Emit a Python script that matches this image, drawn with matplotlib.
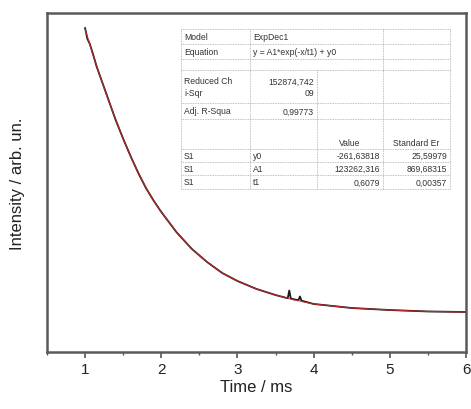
import matplotlib
matplotlib.use('Agg')
import matplotlib.pyplot as plt
from matplotlib.lines import Line2D

plt.rcParams['font.family'] = ['Liberation Sans', 'DejaVu Sans']

t_data = [1.0, 1.03, 1.06, 1.1, 1.15, 1.2, 1.3, 1.4, 1.5, 1.6, 1.7, 1.8, 1.9, 2.0,
          2.2, 2.4, 2.6, 2.8, 3.0, 3.25, 3.5, 3.66, 3.68, 3.70, 3.75, 3.80, 3.82,
          3.84, 4.0, 4.5, 5.0, 5.5, 6.0]
i_data = [23600, 22700, 22300, 21500, 20400, 19500, 17700, 15900, 14300, 12800,
          11400, 10150, 9100, 8150, 6450, 5050, 3950, 3020, 2350, 1680, 1170,
          900, 1550, 880, 800, 740, 1050, 700, 420, 80, -90, -210, -255]

# ExpDec1 fit line
t_fit = [1.0, 1.1, 1.2, 1.3, 1.4, 1.5, 1.6, 1.7, 1.8, 1.9, 2.0, 2.2, 2.4, 2.6,
         2.8, 3.0, 3.25, 3.5, 3.75, 4.0, 4.5, 5.0, 5.5, 6.0]
i_fit = [23530, 21430, 19500, 17650, 15970, 14290, 12770, 11430, 10170, 9080,
         8150, 6470, 5040, 3950, 3020, 2350, 1680, 1170, 750, 420, 80, -90,
         -210, -255]

table_rows = [
    ['Model', 'ExpDec1', '', ''],
    ['Equation', 'y = A1*exp(-x/t1) + y0', '', ''],
    ['', '', '', ''],
    ['Reduced Ch\ni-Sqr', '152874,742\n09', '', ''],
    ['Adj. R-Squa', '0,99773', '', ''],
    ['', '', 'Value', 'Standard Er'],
    ['S1', 'y0', '-261,63818', '25,59979'],
    ['S1', 'A1', '123262,316', '869,68315'],
    ['S1', 't1', '0,6079', '0,00357'],
]

fig = plt.figure(figsize=(4.71, 4.10), dpi=100)
ax = fig.add_axes([0.0998, 0.139, 0.8896, 0.827])

ax.plot(t_data, i_data, color='#1a1a1a', lw=1.3)
ax.plot(t_fit, i_fit, color='#d42a2a', lw=0.8, alpha=0.85)

ax.set_xlim(0.5, 6)
ax.set_ylim(-3617, 24876)
ax.set_xticks([1, 2, 3, 4, 5, 6])
ax.set_xticks([0.5, 1.5, 2.5, 3.5, 4.5, 5.5], minor=True)
ax.set_yticks([])
ax.tick_params(axis='x', which='major', direction='out', length=4, width=1.2,
               color='#555555', labelsize=11, pad=3, labelcolor='#222222')
ax.tick_params(axis='x', which='minor', direction='out', length=2.5, width=1.0,
               color='#555555')
for s in ax.spines.values():
    s.set_color('#5a5a5a')
    s.set_linewidth(1.8)

ax.set_xlabel('Time / ms', fontsize=12, labelpad=2, color='#222222')
ax.set_ylabel('Intensity / arb. un.', fontsize=12, labelpad=16, color='#222222')

# fit results table, drawn in figure pixel coordinates
W, H = 471.0, 410.0
col_x = [181, 250, 317, 383, 450]
row_y = [30, 45, 60, 71, 104, 120, 150, 163, 176, 190]
fx = lambda px: px / W
fy = lambda py: 1 - py / H

grid = dict(color='#aaaaaa', lw=0.6, ls=(0, (1, 1)))
for y in row_y:
    fig.add_artist(Line2D([fx(col_x[0]), fx(col_x[-1])], [fy(y), fy(y)],
                          transform=fig.transFigure, **grid))
for k, x in enumerate(col_x):
    y_start = row_y[3] if k == 2 else row_y[0]
    fig.add_artist(Line2D([fx(x), fx(x)], [fy(y_start), fy(row_y[-1])],
                          transform=fig.transFigure, **grid))

fs = 6.2
for r, row in enumerate(table_rows):
    top, bot = row_y[r], row_y[r + 1]
    for c, txt in enumerate(row):
        if not txt:
            continue
        if r == 5:
            fig.text(fx((col_x[c] + col_x[c + 1]) / 2), fy(bot - 6), txt,
                     fontsize=fs, ha='center', va='center', color='#333333')
        elif (c == 1 and r in (3, 4)) or (c >= 2):
            fig.text(fx(col_x[c + 1] - 3), fy((top + bot) / 2), txt,
                     fontsize=fs, ha='right', va='center', color='#333333',
                     multialignment='right', linespacing=1.3)
        else:
            fig.text(fx(col_x[c] + 3), fy((top + bot) / 2), txt,
                     fontsize=fs, ha='left', va='center', color='#333333',
                     linespacing=1.3)

fig.savefig('out.png', dpi=100)
